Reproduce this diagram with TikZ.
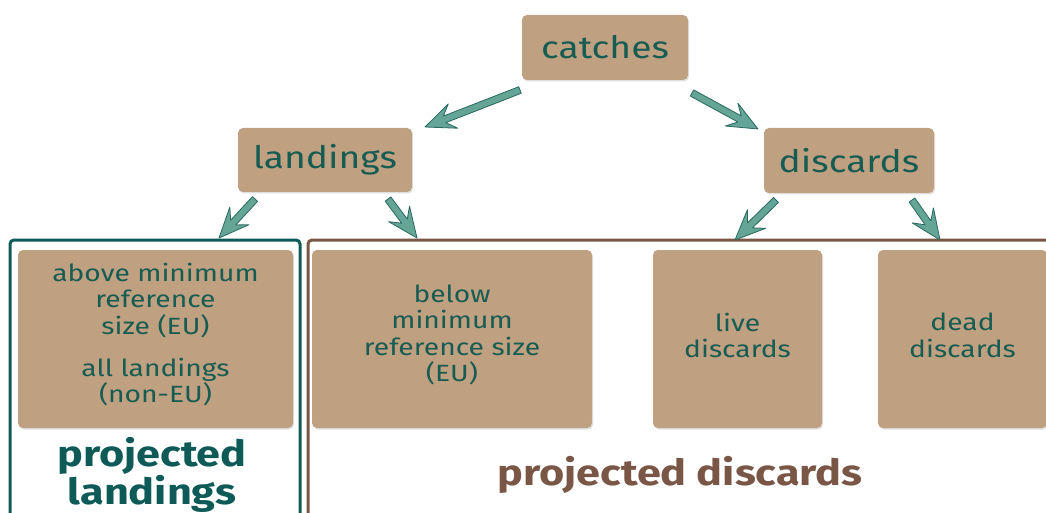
\documentclass[tikz,border=0pt]{standalone}
\usepackage{fontspec}
\setmainfont[FakeStretch=1.2]{Fira Sans}
\usetikzlibrary{shadows,calc}
\definecolor{boxfill}{RGB}{191,160,128}
\definecolor{txt}{RGB}{22,92,82}
\definecolor{gframe}{RGB}{14,90,87}
\definecolor{bframe}{RGB}{122,86,70}
\definecolor{arrfill}{RGB}{100,165,150}
\definecolor{arrdark}{RGB}{40,105,95}
\tikzset{
  box/.style={fill=boxfill, rounded corners=5pt, inner sep=0pt, align=center,
    text=txt, drop shadow={opacity=0.25, shadow xshift=1pt, shadow yshift=-1.5pt}},
  topbox/.style={box, font=\fontsize{31}{34}\selectfont},
  leafbox/.style={box, minimum height=178pt},
  leaftext/.style={align=center, text=txt, inner sep=0pt, font=\fontsize{23.5}{26.5}\selectfont},
  arr/.style={draw=arrdark, fill=arrfill, line width=0.8pt, line join=round},
  framelabel/.style={font=\bfseries\fontsize{36}{32}\selectfont, align=center}
}
\newcommand\fatarrow[2]{%
  \draw[arr] let \p1=(#1), \p2=(#2), \n1={atan2(\y2-\y1,\x2-\x1)},
    \n2={veclen(\x2-\x1,\y2-\y1)} in
    [shift={(\p1)}, rotate=\n1]
    (0pt,-3.5pt) -- (\n2-21pt,-3.5pt) -- (\n2-30pt,-13pt) -- (\n2,0pt)
    -- (\n2-30pt,13pt) -- (\n2-21pt,3.5pt) -- (0pt,3.5pt) -- cycle;}
\begin{document}
\begin{tikzpicture}[x=1pt,y=-1pt]
\useasboundingbox (0,0) rectangle (1046,513);
\clip (0,0) rectangle (1046,513);
% frames
\draw[gframe, line width=3pt, rounded corners=4pt] (10,530) -- (10,240) -- (300,240) -- (300,530);
\draw[bframe, line width=3pt, rounded corners=4pt] (308,530) -- (308,240) -- (1060,240);
% top nodes
\node[topbox, minimum width=166pt, minimum height=65pt] (catches) at (605,47.5) {catches};
\node[topbox, minimum width=174pt, minimum height=64pt] (landings) at (325,160) {landings};
\node[topbox, minimum width=170pt, minimum height=65pt] (discards) at (849,160.5) {discards};
% leaf nodes
\node[leafbox, minimum width=275pt] (above) at (155.5,339) {};
\node[leafbox, minimum width=280pt] (below) at (452,339) {};
\node[leafbox, minimum width=169pt] (live) at (737.5,339) {};
\node[leafbox, minimum width=169pt] (dead) at (962.5,339) {};
\node[leaftext] (abovet) at ($(above)+(0,-4.5)$)
  {above minimum\\reference\\size (EU)\\[15.5pt]all landings\\(non-EU)};
\node[leaftext] (belowt) at ($(below)+(0,-4)$)
  {below\\minimum\\reference size\\(EU)};
\node[leaftext] (livet) at ($(live)+(0,-3.5)$) {live\\discards};
\node[leaftext] (deadt) at ($(dead)+(0,-3.5)$) {dead\\discards};
% frame labels
\node[framelabel, text=gframe] (plab) at (152,475) {projected\\landings};
\node[framelabel, text=bframe] (pdis) at (680,475) {projected discards};
% arrows
\coordinate (a1s) at (520,90);  \coordinate (a1e) at (425,127);
\coordinate (a2s) at (692,93);  \coordinate (a2e) at (758,129);
\coordinate (a3s) at (255,199); \coordinate (a3e) at (219,238);
\coordinate (a4s) at (388,199); \coordinate (a4e) at (417,238);
\coordinate (a5s) at (776,200); \coordinate (a5e) at (735,240);
\coordinate (a6s) at (912,200); \coordinate (a6e) at (940,240);
\fatarrow{a1s}{a1e}
\fatarrow{a2s}{a2e}
\fatarrow{a3s}{a3e}
\fatarrow{a4s}{a4e}
\fatarrow{a5s}{a5e}
\fatarrow{a6s}{a6e}
\end{tikzpicture}
\end{document}
